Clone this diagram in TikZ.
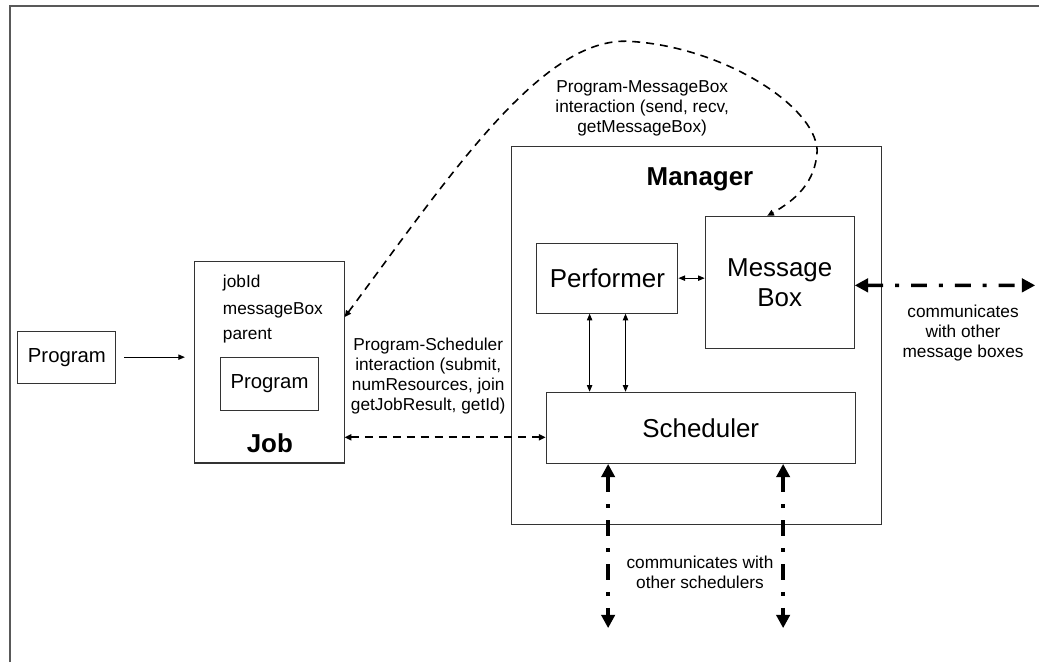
\documentclass[tikz,border=0pt]{standalone}
\usepackage{fontspec}
\setmainfont{Liberation Sans}
\usetikzlibrary{calc}
\usetikzlibrary{arrows.meta}

\begin{document}
\begin{tikzpicture}[
      box/.style={draw=black!80, thick, align=center, inner sep=0pt},
      txt/.style={align=center, font=\fontsize{13}{15}\selectfont, inner sep=1pt},
      big/.style={font=\fontsize{19.5}{22.5}\selectfont},
      head/.style={font=\bfseries\fontsize{19.5}{22}\selectfont},
      dashln/.style={line width=1.2pt, dash pattern=on 6pt off 4.5pt,
                     {Triangle[length=5pt,width=4.5pt]}-{Triangle[length=5pt,width=4.5pt]}},
      comm/.style={line width=2.6pt, dash pattern=on 12pt off 9pt on 3pt off 9pt,
                   {Triangle[length=10pt,width=10pt]}-{Triangle[length=10pt,width=10pt]}},
      >={Triangle[length=5pt,width=4pt]}, thick,
    ]
    \useasboundingbox (0,0) rectangle (27.49,17.52);
    % frame (only top and left edge in view)
    \draw[black!65, line width=1.4pt] (0.26,0) -- (0.26,17.36) -- (27.49,17.36);

    \node[box, minimum width=2.59cm, minimum height=1.38cm,
          font=\fontsize{15.3}{18}\selectfont] (prog) at (1.77,8.07) {Program};

    % job with its fields
    \node[box, minimum width=3.97cm, minimum height=5.34cm] (job) at (7.12,7.94) {};
    \node[txt, anchor=west] (jid) at (5.85,10.03) {jobId};
    \node[txt, anchor=west] (jmb) at (5.85,9.31) {messageBox};
    \node[txt, anchor=west] (jpar) at (5.85,8.65) {parent};
    \node[box, minimum width=2.57cm, minimum height=1.40cm,
          font=\fontsize{15.3}{18}\selectfont] (iprog) at (7.13,7.37) {Program};
    \node[head] (jlbl) at (7.14,5.79) {Job};

    % manager and its parts
    \node[box, minimum width=9.79cm, minimum height=10.00cm] (man) at (18.42,8.65) {};
    \node[head] (mlbl) at (18.52,12.78) {Manager};
    \node[box, big, minimum width=3.73cm, minimum height=1.85cm] (perf) at (16.07,10.16) {Performer};
    \node[box, big, minimum width=3.94cm, minimum height=3.49cm] (mbox) at (20.63,10.05) {Message\\Box};
    \node[box, big, minimum width=8.18cm, minimum height=1.88cm] (sched) at (18.54,6.20) {Scheduler};

    % program -> job
    \draw[->, shorten <=6pt, shorten >=6.5pt] (prog.east) -- (prog.east -| job.west);

    % inside the manager
    \draw[<->] (perf.east) -- (perf.east -| mbox.west);
    \draw[<->] ([xshift=-0.47cm]perf.south) -- ([xshift=-0.47cm]perf.south |- sched.north);
    \draw[<->] ([xshift=0.48cm]perf.south) -- ([xshift=0.48cm]perf.south |- sched.north);

    % program-scheduler interaction
    \coordinate (ps) at ([yshift=-0.25cm]sched.west);
    \draw[dashln] (job.east |- ps) -- (ps);
    \node[txt] (pslbl) at (11.33,7.57)
      {Program-Scheduler\\interaction (submit,\\numResources, join\\getJobResult, getId)};

    % program-messagebox interaction
    \draw[dashln] ([yshift=1.19cm]job.east)
      .. controls (11.91,12.89) and (14.29,16.46) .. (16.56,16.43)
      .. controls (19.05,16.33) and (21.56,14.74) .. (21.62,13.55)
      .. controls (21.59,12.70) and (21.04,12.22) .. ([xshift=-0.33cm]mbox.north);
    \node[txt] (pmlbl) at (16.99,14.66)
      {Program-MessageBox\\interaction (send, recv,\\getMessageBox)};

    % links to the outside
    \coordinate (mbend) at (27.39,9.97);
    \coordinate (lo) at (0,0.90);
    \draw[comm] ([yshift=-0.08cm]mbox.east) -- (mbend);
    \draw[comm] ([xshift=-2.45cm]sched.south) -- ([xshift=-2.45cm]sched.south |- lo);
    \draw[comm] ([xshift=2.18cm]sched.south) -- ([xshift=2.18cm]sched.south |- lo);
    \node[txt] (mblbl) at (25.48,8.71) {communicates\\with other\\message boxes};
    \node[txt] (sclbl) at (18.52,2.38) {communicates with\\other schedulers};
\end{tikzpicture}
\end{document}
